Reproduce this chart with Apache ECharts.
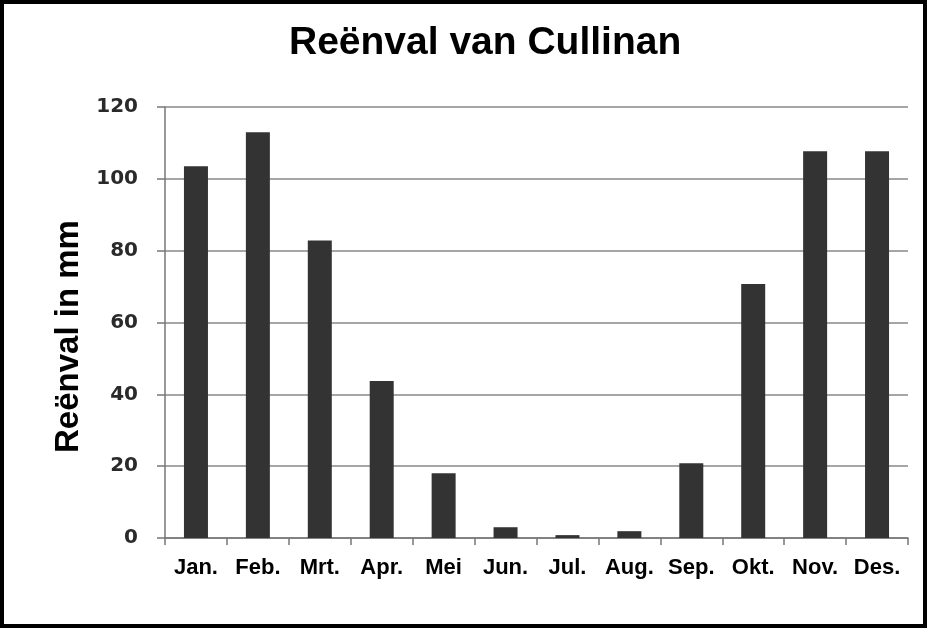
<!DOCTYPE html>
<html><head><meta charset="utf-8">
<script src="https://cdn.jsdelivr.net/npm/echarts@6/dist/echarts.min.js"></script>
<style>html,body{margin:0;padding:0;background:#fff}#c{width:928px;height:629px}</style>
</head><body><div id="c"></div>
<script>
const months = ['Jan.', 'Feb.', 'Mrt.', 'Apr.', 'Mei', 'Jun.', 'Jul.', 'Aug.', 'Sep.', 'Okt.', 'Nov.', 'Des.'];
const rainfall = [103.5, 113, 82.8, 43.7, 18, 3, 0.8, 1.9, 20.8, 70.7, 107.7, 107.7];
const yTicks = [0, 20, 40, 60, 80, 100, 120];

const chart = echarts.init(document.getElementById('c'), null, {renderer: 'canvas'});
chart.setOption({
  animation: false,
  backgroundColor: '#fff',
  title: {
    text: 'Reënval van Cullinan', left: 284, top: 19,
    textStyle: {fontFamily: 'Liberation Sans, Arial', fontWeight: 'bold', fontSize: 39, color: '#000'}
  },
  graphic: [{
    type: 'rect', shape: {x: 2, y: 2, width: 923, height: 624},
    style: {fill: 'none', stroke: '#000', lineWidth: 4}, silent: true
  }],
  grid: {left: 165, right: 20, top: 107, bottom: 91},
  xAxis: {
    type: 'category', data: months,
    axisLine: {lineStyle: {color: '#777', width: 1.5}},
    axisTick: {show: true, interval: 0, alignWithLabel: false, length: 7, lineStyle: {color: '#777', width: 1.5}},
    axisLabel: {interval: 0, hideOverlap: false, margin: 19, fontFamily: 'Liberation Sans, Arial', fontWeight: 'bold', fontSize: 22, color: '#000'}
  },
  yAxis: {
    type: 'value', min: 0, max: 120, interval: 20,
    name: 'Reënval in mm', nameLocation: 'middle', nameGap: 62,
    nameTextStyle: {fontFamily: 'Liberation Sans, Arial', fontWeight: 'bold', fontSize: 33, color: '#000', padding: [0, 28, 0, 0]},
    axisLine: {show: true, lineStyle: {color: '#777', width: 1.5}},
    axisTick: {show: true, length: 8, lineStyle: {color: '#777', width: 1.5}},
    splitLine: {lineStyle: {color: '#888', width: 1.5}},
    axisLabel: {margin: 27, fontFamily: 'DejaVu Sans', fontWeight: 'bold', fontSize: 20, color: '#2a2a2a',
      formatter: v => yTicks.includes(v) ? String(v) : ''}
  },
  series: [{
    type: 'bar', data: rainfall, barWidth: 24,
    itemStyle: {color: '#333333'}
  }]
});
</script></body></html>
